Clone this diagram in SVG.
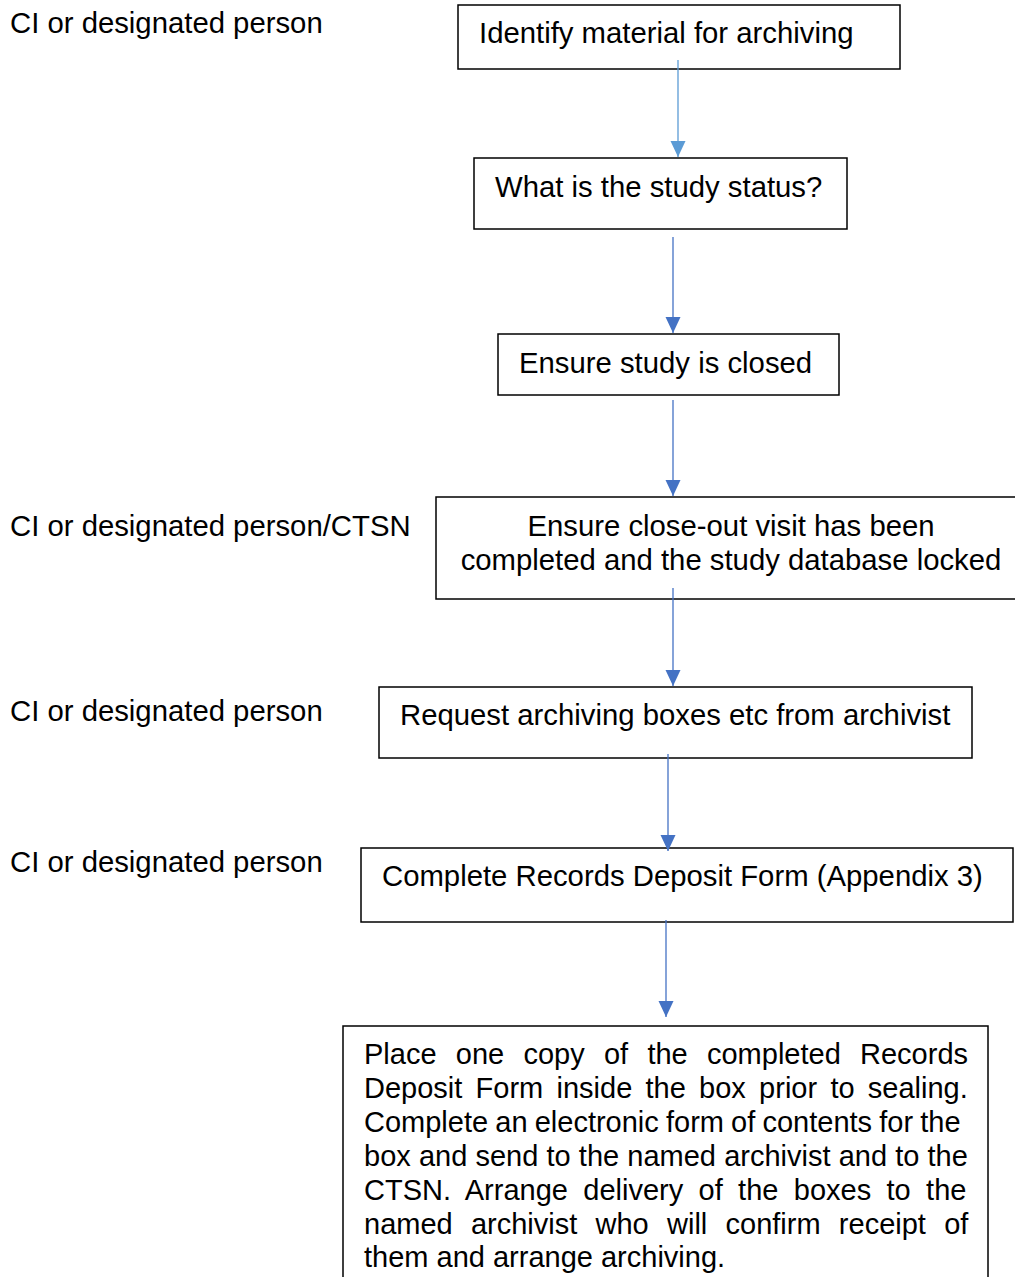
<svg xmlns="http://www.w3.org/2000/svg" width="1015" height="1277" viewBox="0 0 1015 1277">
<style>
  text { font-family: "Liberation Sans", Arial, sans-serif; font-size: 29.3px; fill: #000; }
  .para { font-size: 29px; }
  .box { fill: #fff; stroke: #000; stroke-width: 1.5; }
  .c1 { stroke: #5B9BD5; stroke-width: 1.3; fill: none; }
  .c2 { stroke: #4472C4; stroke-width: 1.3; fill: none; }
</style>
<defs>
  <marker id="ah1" markerUnits="userSpaceOnUse" markerWidth="18" markerHeight="18" viewBox="0 0 18 18" refX="16" refY="9" orient="auto">
    <path d="M0,1.5 L16,9 L0,16.5 Z" fill="#5B9BD5"/>
  </marker>
  <marker id="ah2" markerUnits="userSpaceOnUse" markerWidth="18" markerHeight="18" viewBox="0 0 18 18" refX="16" refY="9" orient="auto">
    <path d="M0,1.5 L16,9 L0,16.5 Z" fill="#4472C4"/>
  </marker>
</defs>
<rect width="1015" height="1277" fill="#fff"/>

<g id="labels">
  <text x="10" y="33">CI or designated person</text>
  <text x="10" y="536">CI or designated person/CTSN</text>
  <text x="10" y="721">CI or designated person</text>
  <text x="10" y="872">CI or designated person</text>
</g>

<g id="node1">
  <rect class="box" x="458" y="5" width="442" height="64"/>
  <text x="479" y="43">Identify material for archiving</text>
</g>
<g id="node2">
  <rect class="box" x="474" y="158" width="373" height="71"/>
  <text x="495" y="197">What is the study status?</text>
</g>
<g id="node3">
  <rect class="box" x="498" y="334" width="341" height="61"/>
  <text x="519" y="373">Ensure study is closed</text>
</g>
<g id="node4">
  <rect class="box" x="436" y="497" width="600" height="102"/>
  <text x="731" y="536" text-anchor="middle">Ensure close-out visit has been</text>
  <text x="731" y="570" text-anchor="middle">completed and the study database locked</text>
</g>
<g id="node5">
  <rect class="box" x="379" y="687" width="593" height="71"/>
  <text x="400" y="725">Request archiving boxes etc from archivist</text>
</g>
<g id="node6">
  <rect class="box" x="361" y="848" width="652" height="74"/>
  <text x="382" y="886">Complete Records Deposit Form (Appendix 3)</text>
</g>
<g id="node7">
  <rect class="box" x="343" y="1026" width="645" height="270"/>
  <text class="para" x="364" y="1064" word-spacing="11.2">Place one copy of the completed Records</text>
  <text class="para" x="364" y="1098" word-spacing="5.2">Deposit Form inside the box prior to sealing.</text>
  <text class="para" x="364" y="1132" word-spacing="-0.9">Complete an electronic form of contents for the</text>
  <text class="para" x="364" y="1166" word-spacing="0.1">box and send to the named archivist and to the</text>
  <text class="para" x="364" y="1200" word-spacing="7.3">CTSN. Arrange delivery of the boxes to the</text>
  <text class="para" x="364" y="1234" word-spacing="10.2">named archivist who will confirm receipt of</text>
  <text class="para" x="364" y="1267">them and arrange archiving.</text>
</g>

<g id="connectors">
  <line class="c1" x1="678" y1="60" x2="678" y2="157" marker-end="url(#ah1)"/>
  <line class="c2" x1="673" y1="237" x2="673" y2="333" marker-end="url(#ah2)"/>
  <line class="c2" x1="673" y1="400" x2="673" y2="496" marker-end="url(#ah2)"/>
  <line class="c2" x1="673" y1="588" x2="673" y2="686" marker-end="url(#ah2)"/>
  <line class="c2" x1="668" y1="754" x2="668" y2="851" marker-end="url(#ah2)"/>
  <line class="c2" x1="666" y1="920" x2="666" y2="1017" marker-end="url(#ah2)"/>
</g>
</svg>
